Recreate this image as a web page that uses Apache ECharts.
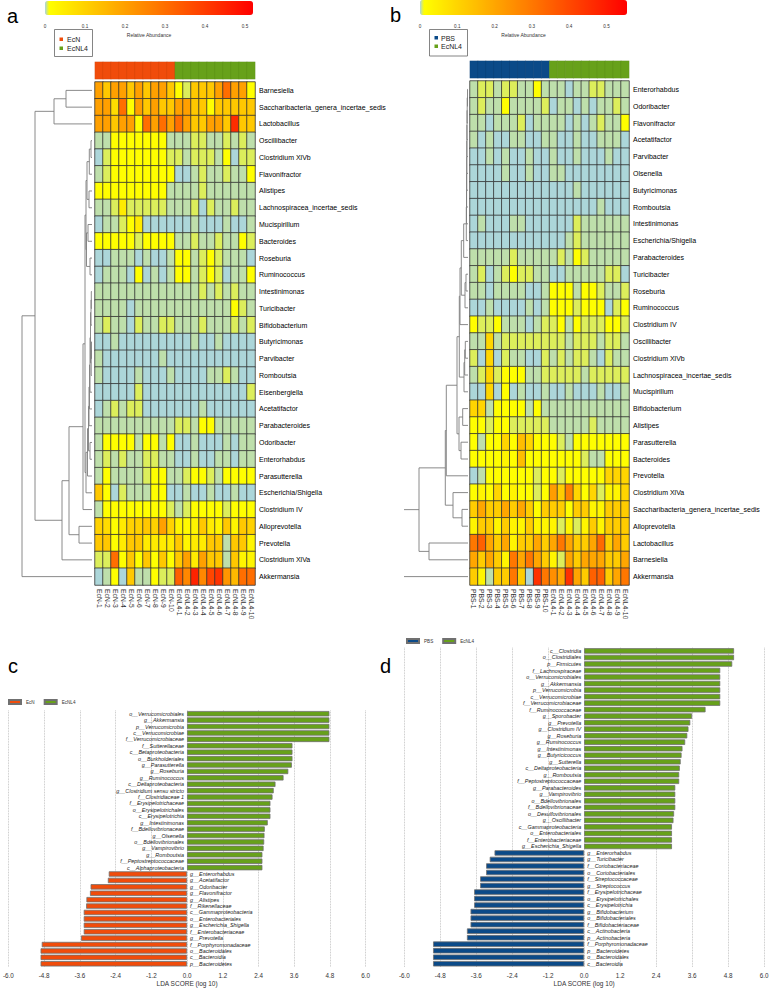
<!DOCTYPE html>
<html>
<head>
<meta charset="utf-8">
<script src="https://cdn.jsdelivr.net/npm/echarts@6/dist/echarts.min.js"></script>
<style>
html,body{margin:0;padding:0;background:#fff}
#main{width:774px;height:988px}
</style>
</head>
<body>
<div id="main"></div>
<script>
// ---- heatmap a ----
var samplesA = ['EcN-1','EcN-2','EcN-3','EcN-4','EcN-5','EcN-6','EcN-7','EcN-8','EcN-9','EcN-10',
	'EcNL4-1','EcNL4-2','EcNL4-3','EcNL4-4','EcNL4-5','EcNL4-6','EcNL4-7','EcNL4-8','EcNL4-9','EcNL4-10'];
var groupsA = [0,0,0,0,0,0,0,0,0,0,1,1,1,1,1,1,1,1,1,1];
var taxaA = ['Barnesiella','Saccharibacteria_genera_incertae_sedis','Lactobacillus','Oscillibacter','Clostridium XlVb',
	'Flavonifractor','Alistipes','Lachnospiracea_incertae_sedis','Mucispirillum','Bacteroides','Roseburia','Ruminococcus',
	'Intestinimonas','Turicibacter','Bifidobacterium','Butyricimonas','Parvibacter','Romboutsia','Eisenbergiella',
	'Acetatifactor','Parabacteroides','Odoribacter','Enterorhabdus','Parasutterella','Escherichia/Shigella',
	'Clostridium IV','Alloprevotella','Prevotella','Clostridium XlVa','Akkermansia'];
var abundA = [
	[.2,.12,.2,.2,.12,.2,.12,.2,.2,.12,.012,.006,.12,.12,.12,.2,.3,.2,.2,.012],
	[.2,.2,.08,.3,.012,.2,.12,.2,.12,.12,.2,.2,.12,.12,.012,.12,.12,.12,.12,.12],
	[.2,.2,.12,.2,.2,.012,.3,.2,.3,.2,.3,.2,.12,.12,.2,.2,.12,.43,.12,.12],
	[.0025,.0025,.012,.012,.012,.012,.012,.012,.012,.0025,.0025,.0025,.006,.006,.0025,.0025,.006,.0025,.006,.0025],
	[.0005,.006,.012,.012,.012,.012,.012,.012,.012,.006,.006,.0025,.006,.006,.006,.0025,.012,.0005,.006,.006],
	[.0025,.006,.012,.012,.012,.012,.012,.012,.012,.012,.0005,.0005,.0025,.006,.0025,.0025,.006,.0025,.0025,.012],
	[.012,.012,.012,.012,.012,.012,.012,.012,.012,.0025,.0025,.0025,.0025,.006,.0025,.0025,.0025,.0025,.0025,.0025],
	[.0025,.0025,.006,.05,.006,.006,.006,.006,.006,.0025,.0025,.0025,.006,.0005,.006,.0025,.0025,.006,.0025,.0025],
	[.0005,.0025,.0025,.006,.012,.05,.0005,.0005,.0005,.0005,.0005,.0005,.0025,.0005,.0005,.0005,.0025,.0005,.0005,.0025],
	[.012,.012,.012,.012,.012,.006,.012,.012,.012,.012,.0025,.0025,.006,.0025,.0025,.006,.0025,.0025,.012,.006],
	[.0005,.0005,.0025,.0025,.0025,.0005,.0025,.0005,.0005,.0025,.012,.012,.0025,.006,.012,.006,.0025,.0025,.0025,.0005],
	[.0005,.0025,.0025,.0025,.0005,.012,.0005,.0025,.0005,.0025,.012,.012,.0025,.006,.012,.006,.0005,.0025,.0025,.012],
	[.0025,.0025,.0025,.0025,.0025,.0025,.0025,.0025,.0025,.0025,.0025,.0025,.0025,.006,.0025,.006,.0025,.006,.0025,.0025],
	[.0025,.0025,.0025,.0025,.0005,.0025,.0025,.0025,.0025,.0025,.0025,.0025,.0025,.0025,.0025,.0025,.0025,.012,.006,.0025],
	[.0025,.006,.0025,.0025,.0005,.006,.0025,.0025,.006,.006,.0025,.0025,.0025,.006,.0025,.0025,.0025,.006,.0025,.006],
	[.0005,.0005,.0025,.0005,.0005,.0005,.0005,.0005,.0005,.0005,.0005,.0005,.0025,.0005,.0005,.0025,.0005,.0005,.0005,.0005],
	[.0025,.0005,.0005,.0005,.0005,.0005,.0005,.0005,.0025,.0005,.0005,.0005,.0005,.0005,.0005,.0005,.0005,.0005,.0005,.0005],
	[.0025,.0005,.0005,.0005,.0005,.0025,.0005,.0005,.0005,.0025,.0005,.0005,.0005,.0005,.0025,.0025,.006,.0025,.0005,.0005],
	[.0005,.0005,.0005,.0005,.0005,.006,.0005,.0005,.0005,.0005,.0005,.0005,.0005,.0005,.0005,.0005,.0005,.0005,.0005,.006],
	[.0005,.0025,.006,.0025,.006,.006,.0005,.0005,.0005,.0005,.0005,.0005,.0005,.0025,.0005,.0005,.0005,.0005,.0005,.0005],
	[.0025,.0025,.0025,.0025,.0025,.0025,.0025,.0025,.0025,.0025,.006,.006,.0025,.012,.012,.0025,.0025,.0025,.0025,.0025],
	[.0025,.012,.012,.012,.012,.0025,.012,.012,.0025,.012,.0005,.0005,.0025,.0005,.0005,.0005,.0025,.0005,.0025,.0025],
	[.0025,.006,.0025,.006,.0025,.0025,.006,.006,.0025,.0025,.0005,.0005,.0025,.0005,.0005,.0025,.0025,.0005,.0025,.0025],
	[.0025,.012,.0025,.0025,.0025,.0025,.006,.012,.012,.0025,.0025,.006,.012,.012,.006,.0025,.012,.012,.012,.012],
	[.12,.012,.0005,.006,.0025,.0025,.0025,.012,.012,.0005,.0005,.0025,.0005,.0005,.0025,.0005,.0005,.0025,.0005,.0005],
	[.0025,.012,.012,.012,.012,.012,.012,.012,.012,.006,.0025,.006,.012,.012,.012,.012,.006,.012,.012,.012],
	[.1,.08,.012,.05,.1,.1,.12,.1,.2,.1,.03,.02,.03,.12,.05,.03,.12,.03,.12,.1],
	[.12,.12,.012,.05,.12,.12,.05,.05,.05,.05,.12,.03,.05,.05,.12,.12,.0025,.12,.12,.03],
	[.006,.006,.3,.012,.12,.012,.12,.012,.12,.012,.12,.2,.05,.2,.12,.12,.0025,.12,.03,.03],
	[.0005,.0025,.012,.0005,.12,.0025,.0025,.012,.006,.006,.33,.25,.45,.25,.38,.42,.22,.15,.3,.3]
];
// dendrogram a, merge list: [left, right, height]; numbers are rows, 'nK' is merge K
var mergeA = [
	[0,1,26],['n0',2,38],[3,4,1],['n2',5,2.7],[6,7,3],['n3','n4',5],[8,9,4],[10,11,2],['n6','n7',5.5],['n5','n8',6],
	[12,13,0.7],['n10',14,1],[15,16,0.5],['n12',17,0.8],['n11','n13',1.5],['n14',18,2],['n15',19,2.5],['n16',20,3],
	[21,22,2],['n17','n18',3.5],['n19',23,4.5],['n20',24,6],['n9','n21',7],['n22',25,9],[26,27,13],['n23','n24',23],
	['n25',28,30],['n1','n26',57],['n27',29,70]
];

// ---- heatmap b ----
var samplesB = ['PBS-1','PBS-2','PBS-3','PBS-4','PBS-5','PBS-6','PBS-7','PBS-8','PBS-9','PBS-10',
	'EcNL4-1','EcNL4-2','EcNL4-3','EcNL4-4','EcNL4-5','EcNL4-6','EcNL4-7','EcNL4-8','EcNL4-9','EcNL4-10'];
var groupsB = [0,0,0,0,0,0,0,0,0,0,1,1,1,1,1,1,1,1,1,1];
var taxaB = ['Enterorhabdus','Odoribacter','Flavonifractor','Acetatifactor','Parvibacter','Olsenella','Butyricimonas',
	'Romboutsia','Intestinimonas','Escherichia/Shigella','Parabacteroides','Turicibacter','Roseburia','Ruminococcus',
	'Clostridium IV','Oscillibacter','Clostridium XlVb','Lachnospiracea_incertae_sedis','Mucispirillum','Bifidobacterium',
	'Alistipes','Parasutterella','Bacteroides','Prevotella','Clostridium XlVa','Saccharibacteria_genera_incertae_sedis',
	'Alloprevotella','Lactobacillus','Barnesiella','Akkermansia'];
var abundB = [
	[.0025,.006,.006,.0025,.006,.006,.0025,.0025,.012,.0025,.0025,.0025,.0005,.0025,.0025,.006,.006,.0025,.0025,.0025],
	[.0025,.006,.0025,.0025,.012,.0025,.0025,.0025,.0025,.006,.0005,.0025,.0025,.0005,.0025,.0005,.0025,.0025,.006,.0025],
	[.0025,.0025,.0005,.0025,.0025,.0025,.006,.0005,.0025,.0025,.0025,.0025,.0005,.0025,.0005,.0025,.006,.0025,.0025,.012],
	[.0025,.0005,.0025,.0005,.0005,.0025,.0025,.0005,.0005,.0025,.0025,.0005,.0005,.0025,.0005,.0005,.0025,.0025,.0025,.0005],
	[.0005,.0005,.0025,.0005,.0025,.0005,.0005,.0025,.0005,.0005,.0025,.0005,.0005,.0025,.0005,.0005,.0005,.0025,.0005,.0005],
	[.0005,.0005,.0005,.0005,.0025,.0005,.0005,.0025,.0005,.0005,.0025,.0025,.0005,.0005,.0005,.0005,.0005,.0005,.0005,.0005],
	[.0005,.0005,.0005,.0005,.0005,.0005,.0005,.0005,.0005,.0005,.0005,.0005,.0005,.0025,.0005,.0005,.0005,.0005,.0005,.0005],
	[.0005,.0005,.0005,.0005,.0005,.0005,.0005,.0005,.0005,.0005,.0005,.0005,.0005,.0005,.0005,.0005,.0025,.0005,.0005,.0005],
	[.0005,.0025,.0005,.0005,.0005,.0025,.0025,.0005,.0005,.0005,.0005,.0005,.0005,.006,.0025,.0025,.0025,.0025,.0025,.0025],
	[.0005,.0005,.0005,.0005,.0005,.0005,.0005,.0005,.0005,.0005,.0005,.0005,.0025,.006,.0025,.0025,.0025,.0025,.0025,.0025],
	[.0025,.0025,.0025,.0025,.0025,.006,.0025,.0025,.0025,.0025,.0025,.006,.0025,.012,.006,.0025,.0025,.0025,.0025,.0025],
	[.0025,.006,.0005,.0025,.006,.012,.006,.006,.0025,.0025,.0005,.0005,.0025,.0025,.0025,.0025,.0025,.006,.006,.0005],
	[.0025,.0025,.0005,.0025,.0025,.0025,.0025,.0005,.0005,.0025,.012,.012,.012,.0025,.012,.012,.006,.0025,.0025,.006],
	[.0005,.0005,.0025,.0005,.0005,.0005,.0005,.0025,.0005,.0025,.012,.012,.012,.006,.012,.012,.012,.0005,.006,.012],
	[.012,.006,.006,.012,.0025,.0025,.0025,.0005,.0025,.006,.006,.012,.0025,.012,.006,.006,.006,.012,.012,.006],
	[.0025,.0025,.1,.0025,.006,.006,.006,.006,.006,.006,.006,.006,.0025,.006,.006,.006,.0025,.006,.006,.0025],
	[.006,.0005,.1,.0005,.006,.0025,.0025,.0005,.0005,.006,.0025,.006,.0025,.006,.006,.0025,.0005,.006,.0025,.0025],
	[.0025,.006,.1,.006,.012,.012,.012,.0025,.0025,.006,.006,.006,.006,.006,.0025,.006,.006,.006,.006,.006],
	[.0005,.0005,.1,.0005,.012,.0005,.0025,.0005,.0005,.0025,.0005,.0005,.0025,.0005,.0005,.0005,.0025,.0005,.0005,.0025],
	[.1,.1,.0025,.012,.012,.012,.012,.0025,.012,.0025,.0025,.0025,.0025,.0025,.0025,.0025,.0025,.0025,.0025,.0025],
	[.012,.012,.006,.012,.012,.006,.006,.006,.006,.006,.0025,.0025,.0025,.0025,.0025,.006,.0025,.0025,.0025,.0025],
	[.012,.0025,.012,.012,.1,.012,.15,.1,.012,.012,.012,.006,.0025,.012,.012,.012,.012,.012,.012,.012],
	[.012,.012,.012,.012,.03,.012,.15,.012,.012,.012,.012,.012,.012,.012,.006,.0025,.0025,.012,.012,.012],
	[.0005,.0025,.012,.012,.012,.012,.012,.012,.006,.012,.012,.006,.012,.012,.012,.012,.012,.1,.1,.1],
	[.012,.03,.012,.1,.012,.03,.012,.012,.006,.012,.22,.12,.28,.1,.012,.1,.006,.03,.03,.1],
	[.12,.2,.12,.12,.2,.12,.2,.12,.012,.12,.12,.12,.012,.12,.12,.03,.03,.12,.12,.12],
	[.03,.12,.12,.03,.12,.03,.03,.12,.03,.03,.03,.006,.03,.006,.03,.12,.03,.12,.12,.12],
	[.3,.35,.2,.12,.2,.03,.12,.12,.2,.12,.2,.3,.2,.12,.12,.2,.33,.12,.2,.12],
	[.2,.12,.2,.12,.03,.3,.2,.3,.2,.12,.03,.006,.2,.12,.2,.2,.2,.12,.12,.2],
	[.12,.03,.0025,.12,.12,.3,.12,.0005,.45,.3,.25,.2,.45,.2,.12,.35,.35,.12,.2,.3]
];
var mergeB = [
	[0,1,0.5],['n0',2,0.8],['n1',3,1],['n2',4,1.1],['n3',5,1.2],['n4',6,1.3],['n5',7,1.4],['n6',8,1.5],['n7',9,1.7],
	['n8',10,4.3],[11,12,2],['n10',13,3],['n9','n11',6.7],['n12',14,8],[15,16,2.7],['n14',17,3.3],['n15',18,4],
	['n13','n16',8.7],[19,20,5.3],[21,22,7],['n18','n19',9],['n17','n20',11],['n21',23,21.7],[25,26,6],[24,'n23',15],
	['n22','n24',22.7],[27,28,39],['n25','n26',49],['n27',29,70]
];

// ---- LDA c ----
var taxaC = ['o__Verrucomicrobiales','g__Akkermansia','p__Verrucomicrobia','c__Verrucomicrobiae','f__Verrucomicrobiaceae',
	'f__Sutterellaceae','c__Betaproteobacteria','o__Burkholderiales','g__Parasutterella','g__Roseburia','g__Ruminococcus',
	'c__Deltaproteobacteria','g__Clostridium sensu stricto','f__Clostridiaceae 1','f__Erysipelotrichaceae',
	'o__Erysipelotrichales','c__Erysipelotrichia','g__Intestinimonas','f__Bdellovibrionaceae','g__Olsenella',
	'o__Bdellovibrionales','g__Vampirovibrio','g__Romboutsia','f__Peptostreptococcaceae','c__Alphaproteobacteria',
	'g__Enterorhabdus','g__Acetatifactor','g__Odoribacter','g__Flavonifractor','g__Alistipes','f__Rikenellaceae',
	'c__Gammaproteobacteria','o__Enterobacteriales','g__Escherichia_Shigella','f__Enterobacteriaceae','g__Prevotella',
	'f__Porphyromonadaceae','o__Bacteroidales','c__Bacteroidia','p__Bacteroidetes'];
var ldaC = [4.78,4.78,4.78,4.78,4.78,3.54,3.54,3.54,3.52,3.40,3.24,2.97,2.91,2.87,2.80,2.80,2.80,2.71,2.61,2.60,
	2.59,2.57,2.53,2.53,2.53,-2.63,-2.66,-3.24,-3.26,-3.38,-3.39,-3.47,-3.47,-3.47,-3.47,-3.56,-4.88,-4.92,-4.92,-4.92];

// ---- LDA d ----
var taxaD = ['c__Clostridia','o__Clostridiales','p__Firmicutes','f__Lachnospiraceae','o__Verrucomicrobiales',
	'g__Akkermansia','p__Verrucomicrobia','c__Verrucomicrobiae','f__Verrucomicrobiaceae','f__Ruminococcaceae',
	'g__Sporobacter','g__Prevotella','g__Clostridium IV','g__Roseburia','g__Ruminococcus','g__Intestinimonas',
	'g__Butyricicoccus','g__Sutterella','c__Deltaproteobacteria','g__Romboutsia','f__Peptostreptococcaceae',
	'g__Parabacteroides','g__Vampirovibrio','o__Bdellovibrionales','f__Bdellovibrionaceae','o__Desulfovibrionales',
	'g__Oscillibacter','c__Gammaproteobacteria','o__Enterobacteriales','f__Enterobacteriaceae','g__Escherichia_Shigella',
	'g__Enterorhabdus','g__Turicibacter','f__Coriobacteriaceae','o__Coriobacteriales','f__Streptococcaceae',
	'g__Streptococcus','f__Erysipelotrichaceae','o__Erysipelotrichales','c__Erysipelotrichia','g__Bifidobacterium',
	'o__Bifidobacteriales','f__Bifidobacteriaceae','c__Actinobacteria','p__Actinobacteria','f__Porphyromonadaceae',
	'p__Bacteroidetes','o__Bacteroidales','c__Bacteroidia'];
var ldaD = [5.0,5.0,4.94,4.54,4.54,4.54,4.54,4.54,4.54,4.05,3.60,3.54,3.48,3.44,3.37,3.28,3.25,3.22,3.19,3.17,3.17,
	3.04,3.04,3.04,3.04,3.0,2.98,2.93,2.93,2.93,2.93,-2.99,-3.15,-3.27,-3.27,-3.47,-3.47,-3.67,-3.67,-3.67,
	-3.79,-3.79,-3.79,-3.91,-3.91,-5.04,-5.04,-5.04,-5.04];

var RED = '#f04c0b', GREEN = '#67a11a', NAVY = '#0b4a88';
var FONT = 'Liberation Sans, Arial, sans-serif';

//颜色映射：0附近浅蓝->黄，然后黄->红
function makeColors(max){
	var out = [];
	var n = 200;
	for(var i=0;i<n;i++){
		var v = i*max/(n-1);
		var r,g,b;
		if(v <= 0.01){
			var t = v/0.01;
			r = 168+(255-168)*t; g = 212+(255-212)*t; b = 228*(1-t);
		}else{
			var t2 = (v-0.01)/(max-0.01);
			r = 255; g = 255*(1-t2); b = 0;
		}
		out.push('rgb('+Math.round(r)+','+Math.round(g)+','+Math.round(b)+')');
	}
	return out;
}

function heatData(m){
	var d = [];
	for(var r=0;r<m.length;r++){
		for(var c=0;c<m[r].length;c++){
			d.push([c, r, m[r][c]]);
		}
	}
	return d;
}

//树状图线段
function treeSegments(merges){
	var segs = [];
	var nodes = [];
	function get(k){
		if(typeof k == 'number'){
			return {y:k, h:0};
		}
		return nodes[parseInt(k.substring(1))];
	}
	for(var i=0;i<merges.length;i++){
		var L = get(merges[i][0]), R = get(merges[i][1]), h = merges[i][2];
		segs.push([L.h, L.y, h, L.y]);
		segs.push([R.h, R.y, h, R.y]);
		segs.push([h, L.y, h, R.y]);
		nodes.push({y:(L.y+R.y)/2, h:h});
	}
	return segs;
}

function renderSeg(params, api){
	var p1 = api.coord([api.value(0), api.value(1)]);
	var p2 = api.coord([api.value(2), api.value(3)]);
	return {type:'line', shape:{x1:p1[0], y1:p1[1], x2:p2[0], y2:p2[1]},
		style:{stroke:'#7d7d7d', lineWidth:0.9}};
}

function ldaLabel(pos){
	return {show:true, position:pos, distance:3, fontSize:5.4, fontStyle:'italic', color:'#222',
		formatter:function(p){ return p.name; }};
}
function ldaFmt(v){
	if(Math.abs(v) < 1e-9) return '0.0';
	return v.toFixed(1);
}
function barFmt(v){
	return v==0 ? '0' : v.toFixed(1);
}

var myChart = echarts.init(document.getElementById('main'), null, {renderer:'svg'});

var hmX = function(data, gi){
	return {type:'category', gridIndex:gi, data:data, axisLine:{show:false}, axisTick:{show:false},
		axisLabel:{rotate:-90, fontSize:6.8, color:'#333', margin:4, interval:0}, splitLine:{show:false}};
};
var hmY = function(data, gi){
	return {type:'category', gridIndex:gi, data:data, inverse:true, position:'right', axisLine:{show:false},
		axisTick:{show:false}, axisLabel:{fontSize:7, color:'#000', margin:4, interval:0}, splitLine:{show:false}};
};
var hideCat = function(gi, d){
	return {type:'category', gridIndex:gi, data:d, show:false};
};
var ldaX = function(gi){
	return {type:'value', gridIndex:gi, min:-6, max:6, interval:1.2, axisLine:{show:false}, axisTick:{show:false},
		axisLabel:{fontSize:6.3, color:'#333', margin:5, formatter:ldaFmt},
		splitLine:{show:true, lineStyle:{type:'dotted', color:'#b5b5b5', width:0.8}},
		name:'LDA SCORE (log 10)', nameLocation:'middle', nameGap:13, nameTextStyle:{fontSize:6.5, color:'#333'}};
};
var barX = function(gi, max){
	return {type:'value', gridIndex:gi, min:0, max:max, interval:0.1, axisLine:{show:false}, axisTick:{show:false},
		splitLine:{show:false}, axisLabel:{fontSize:4.6, color:'#333', margin:9, showMaxLabel:false, formatter:barFmt},
		name:'Relative Abundance', nameLocation:'middle', nameGap:17, nameTextStyle:{fontSize:5, color:'#333'}};
};

var option = {
	animation:false,
	textStyle:{fontFamily:FONT},
	grid:[
		{left:45, top:14, width:208, height:1},
		{left:420, top:14, width:207, height:1},
		{left:95, top:62, width:160, height:17},
		{left:95, top:82, width:160, height:503},
		{left:2, top:82, width:90, height:503},
		{left:470, top:61, width:159, height:17},
		{left:470, top:81, width:159, height:504},
		{left:404, top:81, width:64, height:504},
		{left:6.7, top:710.5, width:359, height:258.7},
		{left:404.3, top:647.7, width:359.7, height:321.6}
	],
	xAxis:[
		barX(0, 0.52),
		barX(1, 0.555),
		hideCat(2, samplesA),
		hmX(samplesA, 3),
		{type:'value', gridIndex:4, min:0, max:90, inverse:true, show:false},
		hideCat(5, samplesB),
		hmX(samplesB, 6),
		{type:'value', gridIndex:7, min:0, max:64, inverse:true, show:false},
		ldaX(8),
		ldaX(9)
	],
	yAxis:[
		{type:'value', gridIndex:0, show:false},
		{type:'value', gridIndex:1, show:false},
		hideCat(2, ['g']),
		hmY(taxaA, 3),
		{type:'value', gridIndex:4, min:-0.5, max:29.5, inverse:true, show:false},
		hideCat(5, ['g']),
		hmY(taxaB, 6),
		{type:'value', gridIndex:7, min:-0.5, max:29.5, inverse:true, show:false},
		{type:'category', gridIndex:8, data:taxaC, inverse:true, show:false},
		{type:'category', gridIndex:9, data:taxaD, inverse:true, show:false}
	],
	visualMap:[
		{type:'continuous', seriesIndex:1, min:0, max:0.52, orient:'horizontal', left:45, top:1,
			itemWidth:14, itemHeight:208, calculable:false, padding:0, inRange:{color:makeColors(0.52)}},
		{type:'continuous', seriesIndex:4, min:0, max:0.555, orient:'horizontal', left:420, top:0,
			itemWidth:15, itemHeight:207, calculable:false, padding:0, inRange:{color:makeColors(0.555)}},
		{type:'piecewise', seriesIndex:0, dimension:2, show:false, pieces:[{value:0, color:RED},{value:1, color:GREEN}]},
		{type:'piecewise', seriesIndex:3, dimension:2, show:false, pieces:[{value:0, color:NAVY},{value:1, color:GREEN}]}
	],
	legend:[
		{data:['EcN','EcNL4'], left:8, top:699, itemWidth:12, itemHeight:4, itemGap:9, icon:'rect',
			textStyle:{fontSize:4.6, color:'#333'}, padding:0, selectedMode:false},
		{data:['PBS','EcNL4'], left:406, top:638, itemWidth:12, itemHeight:4, itemGap:9, icon:'rect',
			textStyle:{fontSize:4.6, color:'#333'}, padding:0, selectedMode:false}
	],
	series:[
		{type:'heatmap', xAxisIndex:2, yAxisIndex:2, data:groupsA.map(function(g,i){ return [i,0,g]; }),
			itemStyle:{borderColor:'rgba(0,0,0,0.12)', borderWidth:0.5}, emphasis:{disabled:true}},
		{type:'heatmap', xAxisIndex:3, yAxisIndex:3, data:heatData(abundA),
			itemStyle:{borderColor:'#333', borderWidth:0.8}, emphasis:{disabled:true}},
		{type:'custom', xAxisIndex:4, yAxisIndex:4, data:treeSegments(mergeA), renderItem:renderSeg, clip:true, silent:true},
		{type:'heatmap', xAxisIndex:5, yAxisIndex:5, data:groupsB.map(function(g,i){ return [i,0,g]; }),
			itemStyle:{borderColor:'rgba(0,0,0,0.12)', borderWidth:0.5}, emphasis:{disabled:true}},
		{type:'heatmap', xAxisIndex:6, yAxisIndex:6, data:heatData(abundB),
			itemStyle:{borderColor:'#333', borderWidth:0.8}, emphasis:{disabled:true}},
		{type:'custom', xAxisIndex:7, yAxisIndex:7, data:treeSegments(mergeB), renderItem:renderSeg, clip:true, silent:true},
		{name:'EcN', type:'bar', xAxisIndex:8, yAxisIndex:8, barGap:'-100%', barCategoryGap:'16%',
			data:ldaC.map(function(v){ return v<0 ? v : '-'; }),
			itemStyle:{color:RED, borderColor:'#707070', borderWidth:0.8}, label:ldaLabel('right')},
		{name:'EcNL4', type:'bar', xAxisIndex:8, yAxisIndex:8, barGap:'-100%', barCategoryGap:'16%',
			data:ldaC.map(function(v){ return v>0 ? v : '-'; }),
			itemStyle:{color:GREEN, borderColor:'#707070', borderWidth:0.8}, label:ldaLabel('left')},
		{name:'PBS', type:'bar', xAxisIndex:9, yAxisIndex:9, barGap:'-100%', barCategoryGap:'16%',
			data:ldaD.map(function(v){ return v<0 ? v : '-'; }),
			itemStyle:{color:NAVY, borderColor:'#707070', borderWidth:0.8}, label:ldaLabel('right')},
		{name:'EcNL4', type:'bar', xAxisIndex:9, yAxisIndex:9, barGap:'-100%', barCategoryGap:'16%',
			data:ldaD.map(function(v){ return v>0 ? v : '-'; }),
			itemStyle:{color:GREEN, borderColor:'#707070', borderWidth:0.8}, label:ldaLabel('left')}
	],
	graphic:[
		{type:'text', left:7, top:6, style:{text:'a', fontSize:20, fill:'#000', fontFamily:FONT}},
		{type:'text', left:390, top:5, style:{text:'b', fontSize:20, fill:'#000', fontFamily:FONT}},
		{type:'text', left:8, top:656, style:{text:'c', fontSize:20, fill:'#000', fontFamily:FONT}},
		{type:'text', left:380, top:656, style:{text:'d', fontSize:20, fill:'#000', fontFamily:FONT}},
		{type:'rect', shape:{x:54.5, y:29.5, width:38, height:27}, style:{fill:'#fff', stroke:'#666', lineWidth:0.8}},
		{type:'rect', shape:{x:59.5, y:37.5, width:3.5, height:3.5}, style:{fill:RED}},
		{type:'text', x:67, y:39.5, style:{text:'EcN', fontSize:7, fill:'#222', fontFamily:FONT, verticalAlign:'middle'}},
		{type:'rect', shape:{x:59.5, y:46.5, width:3.5, height:3.5}, style:{fill:GREEN}},
		{type:'text', x:67, y:48.5, style:{text:'EcNL4', fontSize:7, fill:'#222', fontFamily:FONT, verticalAlign:'middle'}},
		{type:'rect', shape:{x:429.5, y:29.5, width:38, height:26.5}, style:{fill:'#fff', stroke:'#666', lineWidth:0.8}},
		{type:'rect', shape:{x:434.5, y:36, width:3.5, height:3.5}, style:{fill:NAVY}},
		{type:'text', x:441, y:38, style:{text:'PBS', fontSize:7, fill:'#222', fontFamily:FONT, verticalAlign:'middle'}},
		{type:'rect', shape:{x:434.5, y:44.5, width:3.5, height:3.5}, style:{fill:GREEN}},
		{type:'text', x:441, y:46.5, style:{text:'EcNL4', fontSize:7, fill:'#222', fontFamily:FONT, verticalAlign:'middle'}}
	]
};
myChart.setOption(option);
</script>
</body>
</html>
